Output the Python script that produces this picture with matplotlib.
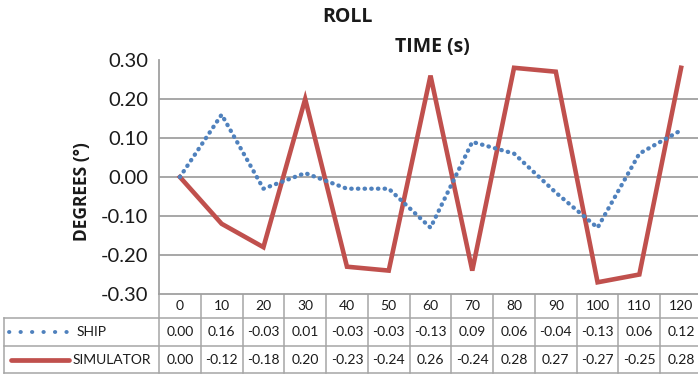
import matplotlib
matplotlib.use("Agg")
import matplotlib.pyplot as plt
import numpy as np
from matplotlib.ticker import FormatStrFormatter

plt.rcParams['font.family'] = ['Lato', 'DejaVu Sans']
plt.rcParams['axes.unicode_minus'] = False

# data
times = [0, 10, 20, 30, 40, 50, 60, 70, 80, 90, 100, 110, 120]
ship = [0.00, 0.16, -0.03, 0.01, -0.03, -0.03, -0.13, 0.09, 0.06, -0.04, -0.13, 0.06, 0.12]
simulator = [0.00, -0.12, -0.18, 0.20, -0.23, -0.24, 0.26, -0.24, 0.28, 0.27, -0.27, -0.25, 0.28]
yticks = [-0.30, -0.20, -0.10, 0.00, 0.10, 0.20, 0.30]

blue = '#4F81BD'
red = '#C0504D'
grid_col = '#A0A0A0'
txt_col = '#1a1a1a'
bold_font = ['Open Sans', 'DejaVu Sans']

W, H = 698, 375
fig = plt.figure(figsize=(W / 100, H / 100), dpi=100)

# plot area in pixels
left, right, top, bottom = 159, 702, 60, 294
ax = fig.add_axes([left / W, 1 - bottom / H, (right - left) / W, (bottom - top) / H])

x = np.arange(len(times))
ax.plot(x, simulator, color=red, lw=3.3, solid_joinstyle='miter', clip_on=False, zorder=3)
ax.plot(x, ship, color=blue, lw=3.1, linestyle=(0, (0.1, 1.45)), dash_capstyle='round',
        clip_on=False, zorder=4)

ax.set_xlim(-0.5, len(times) - 0.5)
ax.set_ylim(-0.3, 0.3)
ax.set_yticks(yticks)
ax.yaxis.set_major_formatter(FormatStrFormatter('%.2f'))
ax.set_xticks([])
ax.tick_params(axis='y', length=0, pad=8, labelsize=14.5, labelcolor=txt_col)
for v in yticks[1:-1]:
    ax.axhline(v, color=grid_col, lw=1.3, zorder=1)
for s in ['top', 'right']:
    ax.spines[s].set_visible(False)
ax.spines['left'].set_color(grid_col)
ax.spines['left'].set_linewidth(1.3)
ax.spines['bottom'].set_color(grid_col)
ax.spines['bottom'].set_linewidth(1.3)

# titles
fig.text(347 / W, 1 - 17 / H, 'ROLL', ha='center', va='center', fontsize=14,
         fontweight='bold', family=bold_font, color=txt_col)
fig.text(432 / W, 1 - 47 / H, 'TIME (s)', ha='center', va='center', fontsize=14,
         fontweight='bold', family=bold_font, color=txt_col)
fig.text(82 / W, 1 - 192 / H, 'DEGREES (°)', ha='center', va='center', rotation=90,
         fontsize=12.5, fontweight='bold', family=bold_font, color=txt_col)

# data table drawn in pixel coordinates on an overlay
tab = fig.add_axes([0, 0, 1, 1], zorder=-1)
tab.set_xlim(0, W)
tab.set_ylim(H, 0)
tab.axis('off')

colw = (right - left) / len(times)
rows = [bottom, 318, 346, 373]
tleft = 4
lc = '#A6A6A6'
# horizontal borders
tab.plot([tleft, right], [rows[1], rows[1]], color=lc, lw=1.1)
tab.plot([tleft, right], [rows[2], rows[2]], color=lc, lw=1.1)
tab.plot([tleft, right], [rows[3], rows[3]], color=lc, lw=1.1)
# vertical borders
tab.plot([left, left], [rows[0], rows[3]], color=lc, lw=1.1)
tab.plot([tleft, tleft], [rows[1], rows[3]], color=lc, lw=1.1)
for i in range(1, len(times) + 1):
    xb = left + i * colw
    tab.plot([xb, xb], [rows[0], rows[3]], color=lc, lw=1.1)

fs = 10
for i, t in enumerate(times):
    cx = left + (i + 0.5) * colw
    tab.text(cx, (rows[0] + rows[1]) / 2, str(t), ha='center', va='center', fontsize=fs, color=txt_col)
    tab.text(cx, (rows[1] + rows[2]) / 2, '%.2f' % ship[i], ha='center', va='center', fontsize=fs, color=txt_col)
    tab.text(cx, (rows[2] + rows[3]) / 2, '%.2f' % simulator[i], ha='center', va='center', fontsize=fs, color=txt_col)

# legend keys inside the table
ym = (rows[1] + rows[2]) / 2
tab.plot([9, 68], [ym, ym], color=blue, lw=2.8, linestyle=(0, (0.1, 2.85)), dash_capstyle='round')
tab.text(77, ym, 'SHIP', ha='left', va='center', fontsize=fs, color=txt_col)
ym = (rows[2] + rows[3]) / 2
tab.plot([11, 69], [ym, ym], color=red, lw=3.4, solid_capstyle='round')
tab.text(73, ym, 'SIMULATOR', ha='left', va='center', fontsize=fs, color=txt_col)

fig.savefig('out.png', dpi=100)
